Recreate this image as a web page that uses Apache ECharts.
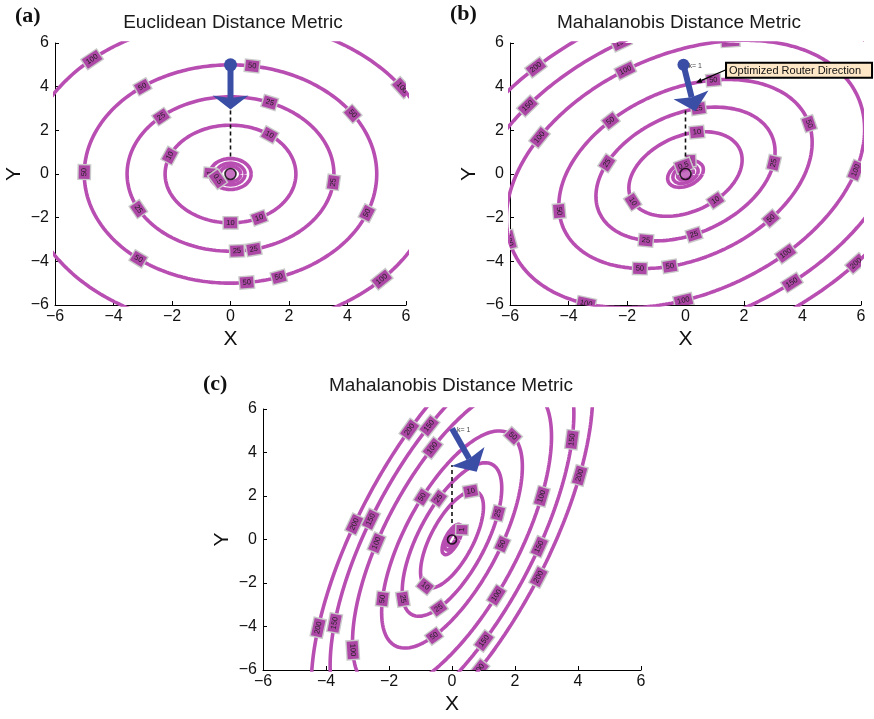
<!DOCTYPE html>
<html>
<head>
<meta charset="utf-8">
<script src="https://cdn.jsdelivr.net/npm/echarts@6/dist/echarts.min.js"></script>
<style>
  html, body { margin: 0; padding: 0; background: #ffffff; }
  #chart { width: 874px; height: 719px; }
</style>
</head>
<body>
<div id="chart"></div>
<script>
// Distance functions f(x, y) = a*x^2 + 2*b*x*y + c*y^2, stored as [a, b, c]
const formA = [2, 0, 2];          // Euclidean
const formB = [3, -1, 3];         // Mahalanobis, mild correlation
const formC = [18.18, -5.45, 3.64]; // Mahalanobis, strong correlation

// Contour levels drawn in each panel
const levelsA = [0.25, 0.5, 1, 10, 25, 50, 100];
const levelsB = [0.2, 0.5, 1, 10, 25, 50, 100, 150, 200];
const levelsC = [0.2, 0.5, 1, 10, 25, 50, 100, 150, 200];

// Inline contour labels: [level, polar angle in degrees]
const labelsA = [
  [100, 132], [100, 34], [100, -43],
  [50, 81.5], [50, 127], [50, 33.5], [50, 179], [50, -21], [50, -129], [50, -83.6], [50, -70.7],
  [25, 67.7], [25, 132], [25, -6.2], [25, -153], [25, -86.4], [25, -77],
  [10, 53.4], [10, 158], [10, -90], [10, -64],
  [1, 176], [0.5, -152]
];
const labelsB = [
  [200, 136.3], [150, 150], [100, 161.4], [100, 113.4], [150, 110], [100, -119.8], [100, 75.9], [100, -153.4],
  [50, 136.4], [50, 77.5], [50, 28.6], [50, -158.5], [50, -34.9], [50, -109.8], [50, -97.2],
  [25, 81.6], [25, 169.5], [25, 9.5], [25, -114], [25, -84],
  [10, 78.5], [10, -145], [10, -49.4],
  [100, 1.6], [100, -46.7], [100, -90.7], [150, -53.8], [200, -35.1],
  [1, 73.8], [0.5, 100]
];
const labelsC = [
  [200, 104.9], [150, 97.9], [100, 98.4], [50, 67.9], [150, 50.3], [200, 36], [100, 34.9],
  [50, 115.8], [25, 102.6], [10, 75], [25, 39.5],
  [200, 167.2], [150, 160.3], [100, -176], [50, -7.6], [150, -6.8], [200, -32.1],
  [10, -111.6], [50, -128.9], [25, -119.7], [25, -97.6], [100, -61.2], [50, -97.3], [150, -77.7], [200, -81.8],
  [200, -136.3], [150, -134.1], [100, -121.8],
  [1, 55]
];

// Router moves: start point (k = 1) and end of the optimized step
const arrowTailA = [0, 5];
const arrowTipA = [0, 2.95];
const arrowTailB = [-0.07, 5.0];
const arrowTipB = [0.33, 2.87];
const arrowTailC = [0, 5.1];
const arrowTipC = [0.785, 3.12];

// Vertical projection from the start point toward the target
const dashA = [[0, 0.8], [0, 2.95]];
const dashB = [[0, 0.8], [0, 2.95]];
const dashC = [[0, 0.76], [0, 3.42]];

// Target location
const originPoint = [0, 0];

// Callout target in panel (b)
const calloutTargetB = [0.36, 4.18];
const calloutText = 'Optimized Router Direction';

const tickValues = [-6, -4, -2, 0, 2, 4, 6];
const titles = ['Euclidean Distance Metric', 'Mahalanobis Distance Metric', 'Mahalanobis Distance Metric'];
const panelTags = ['(a)', '(b)', '(c)'];

// ---------------------------------------------------------------------------
const contourColor = '#b84db2';
const labelFill = '#ad47a6';
const arrowBlue = '#3b4ea6';
const sans = '"Liberation Sans", Arial, Helvetica, sans-serif';
const serif = '"Liberation Serif", "Times New Roman", serif';

const gridRects = [
  { left: 55, top: 43, width: 351, height: 262 },
  { left: 510, top: 43, width: 351, height: 262 },
  { left: 263, top: 409, width: 378, height: 261 }
];

// Points of the level set f = L, via the Cholesky factor of the form
function ellipse(form, L, n) {
  const [a, b, c] = form;
  const r11 = Math.sqrt(a), r12 = b / r11, r22 = Math.sqrt(c - r12 * r12);
  const s = Math.sqrt(L);
  const pts = [];
  for (let i = 0; i <= n; i++) {
    const t = 2 * Math.PI * i / n;
    const y = s * Math.sin(t) / r22;
    const x = (s * Math.cos(t) - r12 * y) / r11;
    pts.push([x, y]);
  }
  return pts;
}

// Label anchor on the level set along a polar direction, with the curve tangent
function labelItem(form, level, deg) {
  const [a, b, c] = form;
  const th = deg * Math.PI / 180;
  const cx = Math.cos(th), sy = Math.sin(th);
  const q = a * cx * cx + 2 * b * cx * sy + c * sy * sy;
  const s = Math.sqrt(level / q);
  const x = s * cx, y = s * sy;
  const gx = a * x + b * y, gy = b * x + c * y;
  return [x, y, -gy, gx, level];
}

function fmtLevel(v) {
  return String(v);
}

const panels = [
  { form: formA, levels: levelsA, labels: labelsA, tail: arrowTailA, tip: arrowTipA, headLen: 14, headHalf: 18, tailR: 6.5, tailText: null, dash: dashA, originFill: contourColor, originSize: 11 },
  { form: formB, levels: levelsB, labels: labelsB, tail: arrowTailB, tip: arrowTipB, headLen: 17, headHalf: 18, tailR: 6, tailText: 'k= 1', dash: dashB, originFill: contourColor, originSize: 11 },
  { form: formC, levels: levelsC, labels: labelsC, tail: arrowTailC, tip: arrowTipC, headLen: 17.5, headHalf: 19, tailR: 0, tailText: 'k= 1', dash: dashC, originFill: 'rgba(0,0,0,0)', originSize: 9 }
];

const grids = [], xAxes = [], yAxes = [], series = [];

panels.forEach((p, i) => {
  grids.push(Object.assign({ containLabel: false, outerBoundsMode: 'none' }, gridRects[i]));
  const minusFmt = v => String(v).replace('-', '\u2212');
  const common = {
    gridIndex: i, type: 'value', min: tickValues[0], max: tickValues[tickValues.length - 1], interval: 2,
    axisLine: { show: true, onZero: false, lineStyle: { color: '#000', width: 1 } },
    axisTick: { show: true, inside: true, length: 4, lineStyle: { color: '#000', width: 1 } },
    splitLine: { show: false },
    nameLocation: 'middle', nameMoveOverlap: false,
    nameTextStyle: { fontSize: 21, color: '#111', fontFamily: sans }
  };
  xAxes.push(Object.assign({}, common, {
    name: 'X', nameGap: 24,
    axisLabel: { fontSize: 16, color: '#111', fontFamily: sans, margin: 4, formatter: minusFmt }
  }));
  yAxes.push(Object.assign({}, common, {
    name: 'Y', nameGap: 30, nameRotate: 90,
    axisLabel: { fontSize: 16, color: '#111', fontFamily: sans, margin: 6, formatter: minusFmt }
  }));

  // contour lines
  p.levels.forEach(L => {
    series.push({
      type: 'line', xAxisIndex: i, yAxisIndex: i, name: 'f=' + L,
      data: ellipse(p.form, L, 360), showSymbol: false, symbol: 'none',
      smooth: false, clip: true, silent: true, animation: false, z: 2,
      lineStyle: { color: contourColor, width: 3.6 }
    });
  });

  // inline level labels
  series.push({
    type: 'custom', xAxisIndex: i, yAxisIndex: i, clip: true, silent: true, animation: false, z: 3,
    encode: { x: 0, y: 1 },
    data: p.labels.map(l => labelItem(p.form, l[0], l[1])),
    renderItem: function (params, api) {
      const x = api.value(0), y = api.value(1), tx = api.value(2), ty = api.value(3);
      const a = api.coord([x, y]);
      const k = 1e-3;
      const b = api.coord([x + tx * k, y + ty * k]);
      let ang = Math.atan2(-(b[1] - a[1]), b[0] - a[0]);
      if (ang > Math.PI / 2) ang -= Math.PI;
      if (ang <= -Math.PI / 2) ang += Math.PI;
      return {
        type: 'text', x: a[0], y: a[1], rotation: ang,
        style: {
          text: fmtLevel(api.value(4)), fill: '#1f1f1f', fontSize: 7.5, fontFamily: sans,
          align: 'center', verticalAlign: 'middle',
          backgroundColor: labelFill, borderColor: '#c9c9c9', borderWidth: 1.4, padding: [2, 2.5, 1, 2.5]
        }
      };
    }
  });

  // dashed projection line
  series.push({
    type: 'line', xAxisIndex: i, yAxisIndex: i, data: p.dash, showSymbol: false, symbol: 'none',
    silent: true, animation: false, z: 4,
    lineStyle: { color: '#111', width: 1.6, type: [4, 3] }
  });

  // router step arrow
  series.push({
    type: 'custom', xAxisIndex: i, yAxisIndex: i, clip: false, silent: true, animation: false, z: 5,
    encode: { x: [0, 2], y: [1, 3] },
    data: [[p.tail[0], p.tail[1], p.tip[0], p.tip[1]]],
    renderItem: function (params, api) {
      const t = api.coord([api.value(0), api.value(1)]);
      const h = api.coord([api.value(2), api.value(3)]);
      const dx = h[0] - t[0], dy = h[1] - t[1];
      const len = Math.hypot(dx, dy);
      const ux = dx / len, uy = dy / len, px = -uy, py = ux;
      const bx = h[0] - ux * p.headLen, by = h[1] - uy * p.headLen;
      const nx = bx + ux * 2.5, ny = by + uy * 2.5;
      const children = [
        { type: 'line', shape: { x1: t[0], y1: t[1], x2: nx, y2: ny }, style: { stroke: arrowBlue, lineWidth: 6 } },
        { type: 'polygon', shape: { points: [[h[0], h[1]], [bx + px * p.headHalf, by + py * p.headHalf], [nx, ny], [bx - px * p.headHalf, by - py * p.headHalf]] }, style: { fill: arrowBlue } }
      ];
      if (p.tailR > 0) {
        children.push({ type: 'circle', shape: { cx: t[0], cy: t[1], r: p.tailR }, style: { fill: arrowBlue } });
      }
      if (p.tailText) {
        children.push({ type: 'text', x: t[0] + 5, y: t[1] + 1, style: { text: p.tailText, fontSize: 7, fill: '#444', fontFamily: sans, verticalAlign: 'middle', align: 'left' } });
      }
      return { type: 'group', children: children };
    }
  });

  // target marker
  series.push({
    type: 'scatter', xAxisIndex: i, yAxisIndex: i, data: [originPoint], symbol: 'circle',
    symbolSize: p.originSize, silent: true, animation: false, z: 6,
    itemStyle: { color: p.originFill, borderColor: '#000', borderWidth: 1.6 }
  });
});

// callout in panel (b)
series.push({
  type: 'custom', xAxisIndex: 1, yAxisIndex: 1, clip: false, silent: true, animation: false, z: 7,
  encode: { x: 0, y: 1 },
  data: [calloutTargetB],
  renderItem: function (params, api) {
    const p = api.coord([api.value(0), api.value(1)]);
    const boxL = p[0] + 30, boxT = p[1] - 20, boxW = 146, boxH = 15;
    const sx = boxL, sy = p[1] - 13;
    const dx = p[0] - sx, dy = p[1] - sy, len = Math.hypot(dx, dy);
    const ux = dx / len, uy = dy / len, px = -uy, py = ux;
    const hb = [p[0] - ux * 6, p[1] - uy * 6];
    return {
      type: 'group', children: [
        { type: 'line', shape: { x1: sx, y1: sy, x2: hb[0], y2: hb[1] }, style: { stroke: '#000', lineWidth: 1.3 } },
        { type: 'polygon', shape: { points: [[p[0], p[1]], [hb[0] + px * 2.5, hb[1] + py * 2.5], [hb[0] - px * 2.5, hb[1] - py * 2.5]] }, style: { fill: '#000' } },
        { type: 'rect', shape: { x: boxL, y: boxT, width: boxW, height: boxH }, style: { fill: '#fde7c6', stroke: '#000', lineWidth: 2 } },
        { type: 'text', x: boxL + 3, y: boxT + boxH / 2 + 0.5, style: { text: calloutText, fontSize: 11, fill: '#111', fontFamily: sans, align: 'left', verticalAlign: 'middle' } }
      ]
    };
  }
});

// titles and panel tags
const titleCenters = [[233, 23], [679, 23], [451, 386]];
const tagPos = [[15, 16], [450, 14], [203, 384]];
const graphic = [];
titles.forEach((t, i) => {
  graphic.push({ type: 'text', x: titleCenters[i][0], y: titleCenters[i][1], style: { text: t, fontSize: 19, fill: '#1a1a1a', fontFamily: sans, align: 'center', verticalAlign: 'middle' } });
  graphic.push({ type: 'text', x: tagPos[i][0], y: tagPos[i][1], style: { text: panelTags[i], fontSize: 22, fontWeight: 'bold', fill: '#111', fontFamily: serif, align: 'left', verticalAlign: 'middle' } });
});

const chart = echarts.init(document.getElementById('chart'), null, { renderer: 'canvas' });
chart.setOption({
  animation: false,
  backgroundColor: '#ffffff',
  grid: grids,
  xAxis: xAxes,
  yAxis: yAxes,
  series: series,
  graphic: graphic
});
</script>
</body>
</html>
